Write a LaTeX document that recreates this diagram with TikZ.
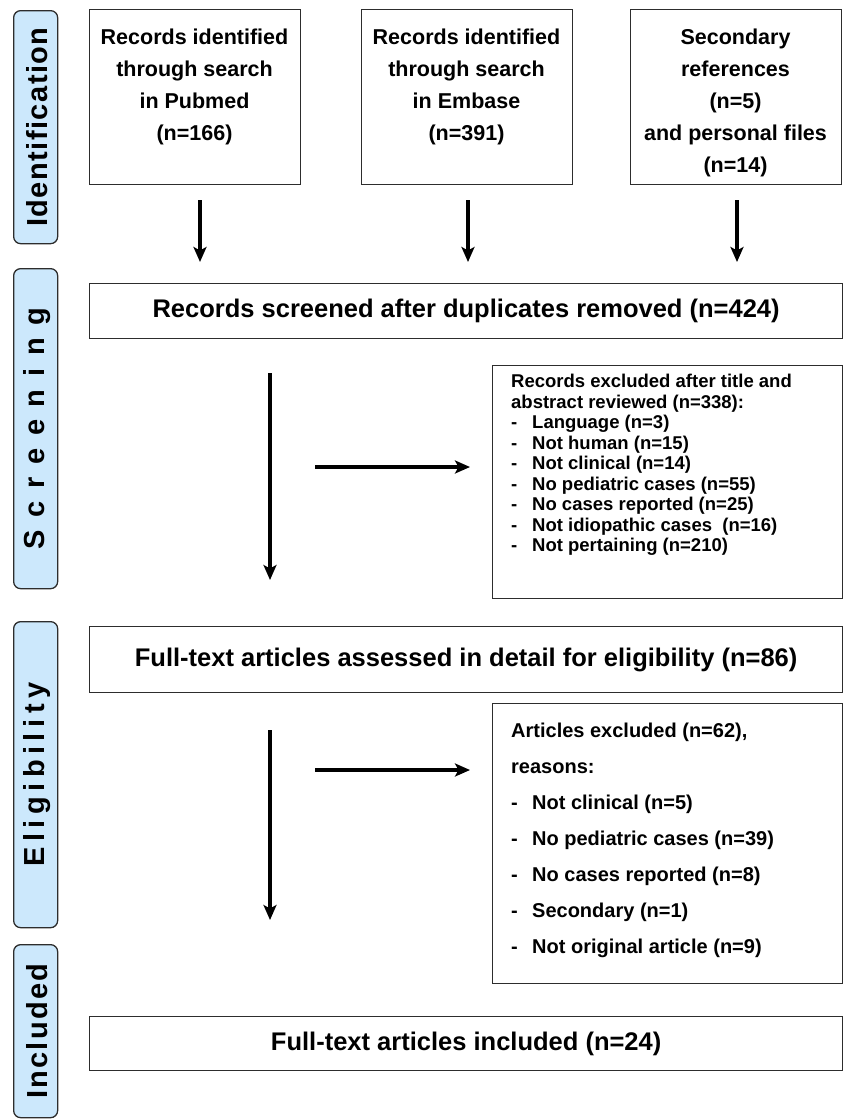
\documentclass[tikz,border=0pt]{standalone}
\usepackage{fontspec}
\setmainfont{Liberation Sans}
\usetikzlibrary{arrows.meta,calc}
\definecolor{lblue}{RGB}{204,232,252}
\definecolor{bord}{RGB}{45,45,45}
\begin{document}
\begin{tikzpicture}[x=1pt,y=-1pt,
  box/.style={draw=bord, line width=1.3pt, inner sep=0pt, anchor=north west},
  lab/.style={draw=bord, fill=lblue, rounded corners=7pt, line width=1.3pt, inner sep=0pt, anchor=north west, minimum width=44pt},
  labtext/.style={rotate=90, inner sep=0pt, font=\fontsize{29}{32}\selectfont\bfseries},
  toptext/.style={inner sep=0pt, anchor=north, align=center, font=\fontsize{21.5}{32}\selectfont\bfseries},
  bigtext/.style={inner sep=0pt, font=\fontsize{25.5}{30}\selectfont\bfseries},
  arr/.style={line width=3.1pt, -{Stealth[length=15pt,width=13pt,inset=3.5pt]}},
  ]
\useasboundingbox (0,0) rectangle (843,1119);
% side labels
\node[lab, minimum height=233pt] (lid) at (13,10) {};
\node[labtext] at ([xshift=1.5pt]lid.center) {\addfontfeatures{LetterSpace=5}Identification};
\node[lab, minimum height=320pt] (lsc) at (13,268) {};
\node[labtext] at ([xshift=1.5pt]lsc.center) {\addfontfeatures{LetterSpace=44}Screening};
\node[lab, minimum height=306pt] (lel) at (13,621) {};
\node[labtext] at ([xshift=1.5pt]lel.center) {\addfontfeatures{LetterSpace=19}Eligibility};
\node[lab, minimum height=173pt] (lin) at (13,944) {};
\node[labtext] at ([xshift=1.5pt]lin.center) {\addfontfeatures{LetterSpace=8}Included};
% top boxes
\node[box, minimum width=211pt, minimum height=175pt] (pub) at (89,9) {};
\node[toptext] (pubt) at (194.5,29) {Records identified\\through search\\in Pubmed\\(n=166)};
\node[box, minimum width=211pt, minimum height=175pt] (emb) at (361,9) {};
\node[toptext] (embt) at (466.5,29) {Records identified\\through search\\in Embase\\(n=391)};
\node[box, minimum width=211pt, minimum height=175pt] (sec) at (630,9) {};
\node[toptext] (sect) at (735.5,29) {Secondary\\references\\(n=5)\\and personal files\\(n=14)};
% screened
\node[box, minimum width=753pt, minimum height=55pt] (scr) at (89,283) {};
\node[bigtext] (scrt) at (scr.center) {Records screened after duplicates removed (n=424)};
% arrows top
\coordinate (a1) at (200,200);
\coordinate (a2) at (468,200);
\coordinate (a3) at (737,200);
\draw[arr, shorten >=21pt] (a1) -- (a1 |- scr.north);
\draw[arr, shorten >=21pt] (a2) -- (a2 |- scr.north);
\draw[arr, shorten >=21pt] (a3) -- (a3 |- scr.north);
% excluded 1
\node[box, minimum width=350pt, minimum height=233pt] (ex1) at (492,365) {};
\node[inner sep=0pt, anchor=north west, align=left, font=\fontsize{18.5}{20.5}\selectfont\bfseries] (ex1t) at (511,374)
{Records excluded after title and\\abstract reviewed (n=338):\\
\makebox[21pt][l]{-}Language (n=3)\\
\makebox[21pt][l]{-}Not human (n=15)\\
\makebox[21pt][l]{-}Not clinical (n=14)\\
\makebox[21pt][l]{-}No pediatric cases (n=55)\\
\makebox[21pt][l]{-}No cases reported (n=25)\\
\makebox[21pt][l]{-}Not idiopathic cases\ \ (n=16)\\
\makebox[21pt][l]{-}Not pertaining (n=210)};
% full text assessed
\node[box, minimum width=753pt, minimum height=66pt] (ft) at (89,626) {};
\node[bigtext] (ftt) at (ft.center) {Full-text articles assessed in detail for eligibility (n=86)};
\coordinate (v1) at (270,373);
\draw[arr, shorten >=46pt] (v1) -- (v1 |- ft.north);
\coordinate (h1) at (315,467);
\draw[arr, shorten >=22pt] (h1) -- (h1 -| ex1.west);
% excluded 2
\node[box, minimum width=350pt, minimum height=280pt] (ex2) at (492,703) {};
\node[inner sep=0pt, anchor=north west, align=left, font=\fontsize{20}{36}\selectfont\bfseries] (ex2t) at (511,723)
{Articles excluded (n=62),\\reasons:\\
\makebox[21pt][l]{-}Not clinical (n=5)\\
\makebox[21pt][l]{-}No pediatric cases (n=39)\\
\makebox[21pt][l]{-}No cases reported (n=8)\\
\makebox[21pt][l]{-}Secondary (n=1)\\
\makebox[21pt][l]{-}Not original article (n=9)};
% included
\node[box, minimum width=753pt, minimum height=54pt] (inc) at (89,1016) {};
\node[bigtext] (inct) at (inc.center) {Full-text articles included (n=24)};
\coordinate (v2) at (270,730);
\draw[arr, shorten >=96pt] (v2) -- (v2 |- inc.north);
\coordinate (h2) at (315,770);
\draw[arr, shorten >=22pt] (h2) -- (h2 -| ex2.west);
\end{tikzpicture}
\end{document}
